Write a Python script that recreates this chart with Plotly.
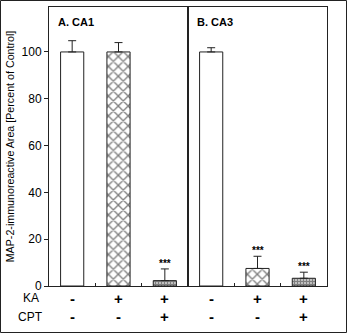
import plotly.graph_objects as go

categories = [0, 1, 2]
ca1_values = [100, 100, 2.3]
ca1_errors = [4.8, 4.0, 5.0]
ca3_values = [100, 7.5, 3.3]
ca3_errors = [1.8, 5.2, 2.6]
ca1_stars = ["", "", "***"]
ca3_stars = ["", "***", "***"]
ka_signs = ["-", "+", "+"]
ka3_signs = ["-", "+", "+"]
cpt_signs = ["-", "-", "+"]
y_ticks = [0, 20, 40, 60, 80, 100]
panel_titles = ["A. CA1", "B. CA3"]

FONT = "Liberation Sans, Arial, sans-serif"
line_col = "#222222"
patterns = [
    dict(shape="", fgcolor="black", bgcolor="white"),
    dict(shape="x", fgcolor="black", bgcolor="white", size=7, solidity=0.35),
    dict(shape="+", fgcolor="black", bgcolor="white", size=3, solidity=0.8),
]

fig = go.Figure()
for i, (vals, errs, xa, ya) in enumerate([(ca1_values, ca1_errors, "x", "y"), (ca3_values, ca3_errors, "x2", "y2")]):
    for c in categories:
        fig.add_trace(go.Bar(
            x=[c], y=[vals[c]], xaxis=xa, yaxis=ya, width=0.5,
            marker=dict(color="white", line=dict(color=line_col, width=1), pattern=patterns[c]),
            error_y=dict(type="data", array=[errs[c]], arrayminus=[0], symmetric=False,
                         color=line_col, thickness=1, width=4),
            showlegend=False, hoverinfo="skip",
        ))

annotations = []
for xa, ya, vals, errs, stars in [("x", "y", ca1_values, ca1_errors, ca1_stars), ("x2", "y2", ca3_values, ca3_errors, ca3_stars)]:
    for c in categories:
        if stars[c]:
            annotations.append(dict(x=c, y=vals[c] + errs[c], xref=xa, yref=ya, text="<b>%s</b>" % stars[c],
                                    showarrow=False, yanchor="bottom", yshift=-2,
                                    font=dict(size=10, color="black", family=FONT)))
for k, title in enumerate(panel_titles):
    annotations.append(dict(x=0.025 + 0.5 * k, y=0.975, xref="paper", yref="paper", text="<b>%s</b>" % title,
                            showarrow=False, xanchor="left", yanchor="top",
                            font=dict(size=11, color="black", family=FONT)))

for xa, ka, cpt in [("x", ka_signs, cpt_signs), ("x2", ka3_signs, cpt_signs)]:
    for c in categories:
        annotations.append(dict(x=c, y=-0.045, xref=xa, yref="paper", text="<b>%s</b>" % ka[c],
                                showarrow=False, yanchor="middle", font=dict(size=15, color="black", family=FONT)))
        annotations.append(dict(x=c, y=-0.11, xref=xa, yref="paper", text="<b>%s</b>" % cpt[c],
                                showarrow=False, yanchor="middle", font=dict(size=15, color="black", family=FONT)))
annotations.append(dict(x=-0.065, y=-0.043, xref="paper", yref="paper", text="KA", showarrow=False,
                        xanchor="center", yanchor="middle", font=dict(size=12, color="black", family=FONT)))
annotations.append(dict(x=-0.065, y=-0.11, xref="paper", yref="paper", text="CPT", showarrow=False,
                        xanchor="center", yanchor="middle", font=dict(size=12, color="black", family=FONT)))

xax = dict(range=[-0.5, 2.5], showgrid=False, zeroline=False, showline=True, mirror=True,
           linecolor=line_col, linewidth=1, tickvals=[0.5, 1.5], ticks="inside", ticklen=3,
           tickcolor=line_col, showticklabels=False)
fig.update_layout(
    width=350, height=335,
    margin=dict(l=49, r=23, t=7, b=49),
    paper_bgcolor="white", plot_bgcolor="white",
    barmode="overlay",
    font=dict(family=FONT),
    xaxis=dict(domain=[0, 0.5], **xax),
    xaxis2=dict(domain=[0.5, 1], anchor="y2", **xax),
    yaxis=dict(range=[0, 119.2], tickvals=y_ticks, ticks="outside", ticklen=4, tickcolor=line_col,
               showgrid=False, zeroline=False, showline=True, mirror=True, linecolor=line_col, linewidth=1,
               tickfont=dict(size=12, color="black", family=FONT),
               title=dict(text="MAP-2-immunoreactive Area [Percent of Control]",
                          font=dict(size=10.7, color="black", family=FONT), standoff=4)),
    yaxis2=dict(range=[0, 119.2], anchor="x2", showticklabels=False, ticks="", showgrid=False,
                zeroline=False, showline=True, mirror=True, linecolor=line_col, linewidth=1),
    annotations=annotations,
    shapes=[dict(type="rect", xref="paper", yref="paper",
                 x0=(0.5 - 49) / 278, x1=(346.5 - 49) / 278,
                 y0=(286 - 332.5) / 279, y1=(286 - 0.5) / 279,
                 line=dict(color=line_col, width=1))],
)
fig.write_html("out.html")
